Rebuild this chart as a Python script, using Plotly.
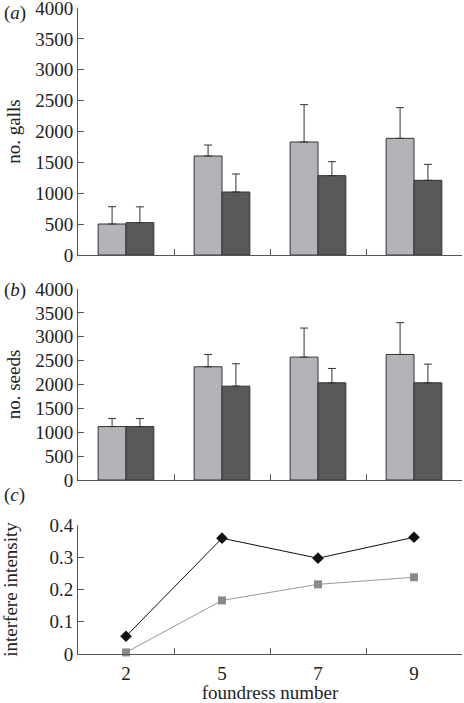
import plotly.graph_objects as go

categories = ["2", "5", "7", "9"]

galls_light = [502, 1603, 1830, 1889]
galls_light_err = [280, 178, 605, 497]
galls_dark = [524, 1020, 1285, 1209]
galls_dark_err = [256, 292, 226, 259]

seeds_light = [1119, 2371, 2573, 2629]
seeds_light_err = [168, 258, 609, 665]
seeds_dark = [1119, 1965, 2035, 2035]
seeds_dark_err = [168, 469, 301, 392]

intensity_black = [0.055, 0.359, 0.297, 0.362]
intensity_grey = [0.005, 0.166, 0.216, 0.238]

LIGHT = "#b3b4b7"
DARK = "#58595b"
EDGE = "#333333"
AXIS = "#555555"
FONT = "Liberation Serif"
FS = 19

fig = go.Figure()


def add_bars(vals, errs, color, xa, ya):
    fig.add_trace(go.Bar(
        x=categories, y=vals, xaxis=xa, yaxis=ya,
        marker=dict(color=color, line=dict(color=EDGE, width=1)),
        error_y=dict(type="data", symmetric=False, array=errs,
                     arrayminus=[0] * len(errs), color=EDGE,
                     thickness=1, width=4),
        showlegend=False,
    ))


add_bars(galls_light, galls_light_err, LIGHT, "x", "y")
add_bars(galls_dark, galls_dark_err, DARK, "x", "y")
add_bars(seeds_light, seeds_light_err, LIGHT, "x2", "y2")
add_bars(seeds_dark, seeds_dark_err, DARK, "x2", "y2")

fig.add_trace(go.Scatter(
    x=categories, y=intensity_black, xaxis="x3", yaxis="y3",
    mode="lines+markers",
    line=dict(color="#111111", width=1),
    marker=dict(symbol="diamond", size=9, color="#111111"),
    showlegend=False, cliponaxis=False,
))
fig.add_trace(go.Scatter(
    x=categories, y=intensity_grey, xaxis="x3", yaxis="y3",
    mode="lines+markers",
    line=dict(color="#999999", width=1),
    marker=dict(symbol="square", size=8, color="#8a8a8a"),
    showlegend=False, cliponaxis=False,
))

H = 703
top_m = 8
bot_m = 49
ph = H - top_m - bot_m


def dom(top_px, bottom_px):
    return [1 - (bottom_px - top_m) / ph, 1 - (top_px - top_m) / ph]


xcommon = dict(type="category", categoryorder="array", categoryarray=categories,
               showline=True, linecolor=AXIS, linewidth=1,
               ticks="inside", tickson="boundaries", ticklen=6,
               tickcolor=AXIS, showgrid=False, zeroline=False,
               range=[-0.5, 3.5], automargin=False)
ycommon = dict(showline=True, linecolor=AXIS, linewidth=1,
               ticks="inside", ticklen=6, tickcolor=AXIS,
               showgrid=False, zeroline=False, automargin=False,
               ticklabeloverflow="allow",
               tickfont=dict(size=FS, color="#222"),
               title_font=dict(size=FS, color="#222"))

fig.update_layout(
    width=464, height=H,
    margin=dict(l=78, r=2, t=top_m, b=bot_m),
    paper_bgcolor="white", plot_bgcolor="white",
    font=dict(family=FONT, size=FS, color="#222"),
    barmode="group", bargap=0.42, bargroupgap=0,
    xaxis=dict(**xcommon, anchor="y", showticklabels=False),
    xaxis2=dict(**xcommon, anchor="y2", showticklabels=False),
    xaxis3=dict(**xcommon, anchor="y3", showticklabels=True,
                ticklabelstandoff=2,
                tickfont=dict(size=FS, color="#222"),
                title=dict(text="foundress number", font=dict(size=FS), standoff=1)),
    yaxis=dict(**ycommon, domain=dom(8, 255), range=[0, 4000], dtick=500,
               anchor="x", title=dict(text="no. galls", standoff=9)),
    yaxis2=dict(**ycommon, domain=dom(289, 480), range=[0, 4000], dtick=500,
                anchor="x2", title=dict(text="no. seeds", standoff=9)),
    yaxis3=dict(**ycommon, domain=dom(525, 654), range=[0, 0.4], dtick=0.1,
                anchor="x3", title=dict(text="interfere intensity", standoff=26)),
)

for label, ypx in [("a", 13), ("b", 290), ("c", 495)]:
    fig.add_annotation(text=f"(<i>{label}</i>)", xref="paper", yref="paper",
                       x=-76 / 384, y=1 - (ypx - top_m) / ph,
                       xanchor="left", yanchor="middle", showarrow=False,
                       font=dict(size=FS, family=FONT, color="#222"))

fig.write_html("out.html", config={"displayModeBar": False},
               post_script="document.body.style.margin='0';document.body.style.padding='0';")
